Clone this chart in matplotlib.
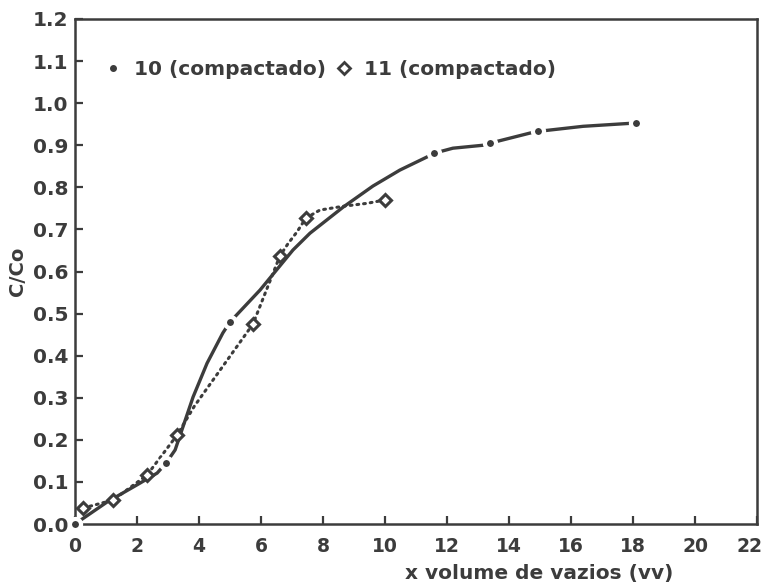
import numpy as np
import matplotlib
matplotlib.use("Agg")
import matplotlib.pyplot as plt
import matplotlib.transforms as mtransforms
from matplotlib.lines import Line2D

# series 10 (compactado): measured points and the traced smooth curve
s10_x = [0.0, 2.94, 5.0, 11.58, 13.39, 14.94, 18.1]
s10_y = [0.0, 0.145, 0.48, 0.881, 0.905, 0.933, 0.952]
s10_curve_x = [0.0, 1.03, 2.0, 2.65, 2.94, 3.23, 3.81, 4.26, 4.77, 5.0, 5.97,
               7.03, 7.58, 8.65, 9.61, 10.48, 11.35, 11.58, 12.19, 13.16,
               13.39, 14.68, 14.94, 16.39, 17.9, 18.1]
s10_curve_y = [0.0, 0.052, 0.093, 0.121, 0.145, 0.176, 0.302, 0.382, 0.454,
               0.48, 0.556, 0.651, 0.691, 0.753, 0.803, 0.841, 0.872, 0.881,
               0.893, 0.900, 0.905, 0.929, 0.933, 0.945, 0.952, 0.952]

# series 11 (compactado)
s11_x = [0.27, 1.23, 2.32, 3.29, 5.74, 6.61, 7.45, 10.0]
s11_y = [0.038, 0.057, 0.116, 0.211, 0.475, 0.637, 0.727, 0.770]
s11_curve_x = [0.27, 1.23, 2.32, 3.29, 3.85, 5.74, 6.61, 6.87, 7.16, 7.45,
               7.9, 8.65, 9.42, 10.0]
s11_curve_y = [0.038, 0.057, 0.116, 0.211, 0.28, 0.475, 0.637, 0.666, 0.694,
               0.727, 0.746, 0.755, 0.762, 0.770]

x_ticks = list(range(0, 23, 2))
y_ticks = [i / 10 for i in range(13)]

ink = "#3c3c3c"
plt.rcParams["font.family"] = ["DejaVu Sans"]
plt.rcParams["font.weight"] = "bold"

fig = plt.figure(figsize=(7.68, 5.86), dpi=100)
ax = fig.add_axes([75 / 768, 1 - 524 / 586, 682 / 768, 505 / 586])

# series 11: dotted smooth line + open diamonds
ax.plot(s11_curve_x, s11_curve_y, color=ink, lw=2.2,
        linestyle=(0, (0.6, 1.6)), dash_capstyle="round")
ax.plot(s11_x, s11_y, linestyle="none", marker="D", markersize=6.5,
        mfc="white", mec=ink, mew=2.2, zorder=3)

# series 10: solid curve broken around the dots
ax.plot(s10_curve_x, s10_curve_y, color=ink, lw=2.4, solid_capstyle="round")
ax.plot(s10_x, s10_y, linestyle="none", marker="o", markersize=8,
        mfc=ink, mec="white", mew=3, zorder=4, clip_on=False)

ax.set_xlim(0, 22)
ax.set_ylim(0, 1.2)
ax.set_xticks(x_ticks)
ax.set_xticklabels([str(v) for v in x_ticks])
ax.set_yticks(y_ticks)
ax.set_yticklabels([f"{v:.1f}" for v in y_ticks])
ax.tick_params(direction="in", length=6, width=1.6, colors=ink)
ax.tick_params(axis="x", pad=9, labelsize=13.5)
ax.tick_params(axis="y", pad=5, labelsize=14.5)
for lab in ax.get_xticklabels() + ax.get_yticklabels():
    lab.set_fontweight("bold")
    lab.set_color(ink)
# last x label sits a little left of its tick, as in the original
last = ax.get_xticklabels()[-1]
last.set_transform(last.get_transform() +
                   mtransforms.ScaledTranslation(-8 / 100, 0, fig.dpi_scale_trans))
for sp in ax.spines.values():
    sp.set_linewidth(1.8)
    sp.set_color(ink)

ax.set_xlabel("x volume de vazios (vv)", fontsize=14.5, fontweight="bold",
              color=ink)
ax.xaxis.set_label_coords(0.68, -0.08)
ax.set_ylabel("C/Co", fontsize=14, fontweight="bold", color=ink)
ax.yaxis.set_label_coords(-0.07, 0.5)

handles = [
    Line2D([], [], linestyle="none", marker="o", markersize=4, color=ink),
    Line2D([], [], linestyle="none", marker="D", markersize=6, mfc="white",
           mec=ink, mew=2),
]
leg = ax.legend(handles, ["10 (compactado)", "11 (compactado)"], ncol=2,
                loc="upper left", bbox_to_anchor=(0.018, 0.955),
                frameon=False, handlelength=0.8, handletextpad=0.6,
                columnspacing=0.5, prop={"size": 14.5, "weight": "bold"})
for t in leg.get_texts():
    t.set_color(ink)

fig.savefig("out.png", dpi=100, facecolor="white")
